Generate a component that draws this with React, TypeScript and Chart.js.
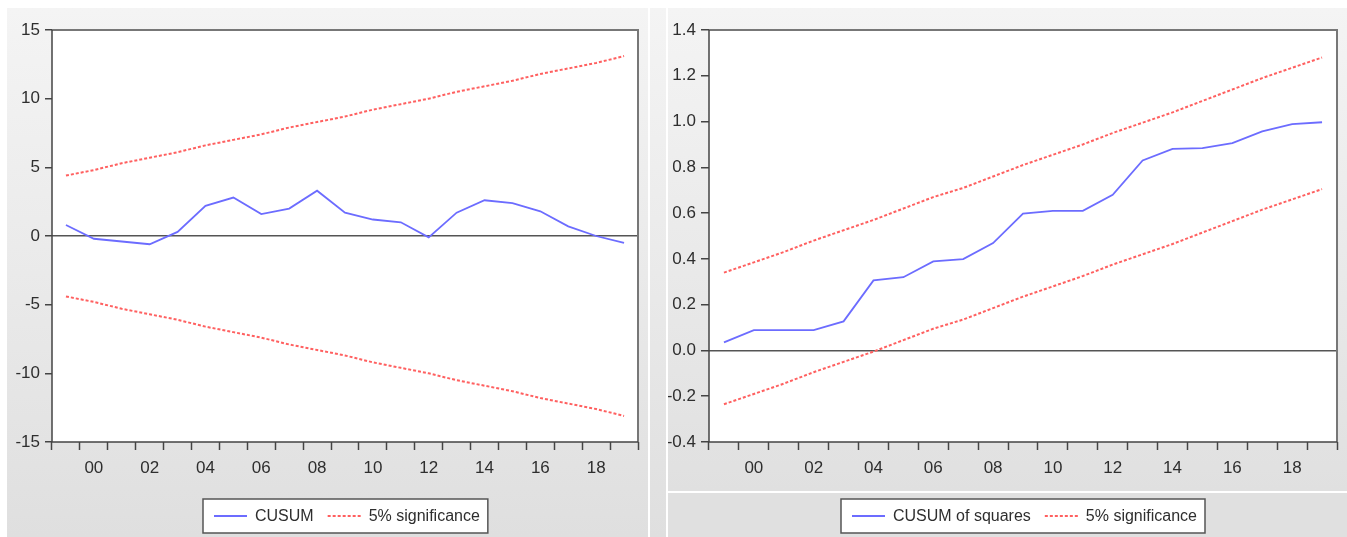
import React, { useEffect, useRef } from 'react';
import { Chart, registerables } from 'chart.js';

Chart.register(...registerables);

// ---------- data ----------
const years = [
  '1999', '2000', '2001', '2002', '2003', '2004', '2005', '2006', '2007', '2008', '2009',
  '2010', '2011', '2012', '2013', '2014', '2015', '2016', '2017', '2018', '2019',
];

const cusum = [0.8, -0.2, -0.4, -0.6, 0.3, 2.2, 2.8, 1.6, 2.0, 3.3, 1.7, 1.2, 1.0, -0.1, 1.7, 2.6, 2.4, 1.8, 0.7, 0.0, -0.5];
const cusumUpper = [4.4, 4.8, 5.3, 5.7, 6.1, 6.6, 7.0, 7.4, 7.9, 8.3, 8.7, 9.2, 9.6, 10.0, 10.5, 10.9, 11.3, 11.8, 12.2, 12.6, 13.1];
const cusumLower = [-4.4, -4.8, -5.3, -5.7, -6.1, -6.6, -7.0, -7.4, -7.9, -8.3, -8.7, -9.2, -9.6, -10.0, -10.5, -10.9, -11.3, -11.8, -12.2, -12.6, -13.1];

const cusumSq = [0.035, 0.089, 0.089, 0.089, 0.127, 0.306, 0.32, 0.389, 0.399, 0.469, 0.598, 0.61, 0.61, 0.68, 0.83, 0.881, 0.884, 0.906, 0.957, 0.989, 0.997];
const sqUpper = [0.34, 0.385, 0.43, 0.48, 0.525, 0.57, 0.62, 0.67, 0.71, 0.76, 0.81, 0.855, 0.9, 0.95, 0.995, 1.04, 1.09, 1.14, 1.19, 1.235, 1.28];
const sqLower = [-0.235, -0.19, -0.145, -0.095, -0.05, -0.005, 0.045, 0.095, 0.135, 0.185, 0.235, 0.28, 0.325, 0.375, 0.42, 0.465, 0.515, 0.565, 0.615, 0.66, 0.705];

const leftAxis = { min: -15, max: 15, step: 5, decimals: 0 };
const rightAxis = { min: -0.4, max: 1.4, step: 0.2, decimals: 1 };

const leftLegend = ['CUSUM', '5% significance'];
const rightLegend = ['CUSUM of squares', '5% significance'];

// ---------- styles ----------
const FONT = "'Liberation Sans', Arial, Helvetica, sans-serif";
const TEXT = '#2e2e2e';
const BLUE = '#6c6cff';
const RED = '#ff6060';
const DASH = [3, 2];
const AXIS = '#444444';

type PanelSpec = {
  values: number[];
  upper: number[];
  lower: number[];
  axis: { min: number; max: number; step: number; decimals: number };
  legend: string[];
  yWidth: number;
  yTick: number;
  yPad: number;
  width: number;
  height: number;
};

function makeConfig(p: PanelSpec): any {
  const framePlugin = {
    id: 'frame',
    beforeDraw(chart: any) {
      const { ctx, chartArea: a } = chart;
      ctx.save();
      ctx.fillStyle = '#ffffff';
      ctx.fillRect(a.left, a.top, a.right - a.left, a.bottom - a.top);
      ctx.restore();
    },
    afterDatasetsDraw(chart: any) {
      const { ctx, chartArea: a } = chart;
      ctx.save();
      ctx.lineCap = 'butt';
      ctx.strokeStyle = '#777777';
      ctx.lineWidth = 2;
      ctx.beginPath();
      ctx.moveTo(a.left, a.top);
      ctx.lineTo(a.right, a.top);
      ctx.lineTo(a.right, a.bottom);
      ctx.stroke();
      ctx.strokeStyle = AXIS;
      ctx.lineWidth = 1.5;
      ctx.beginPath();
      ctx.moveTo(a.left, a.top);
      ctx.lineTo(a.left, a.bottom);
      ctx.lineTo(a.right, a.bottom);
      ctx.stroke();
      ctx.restore();
    },
  };

  const legendPlugin = {
    id: 'boxLegend',
    afterDraw(chart: any) {
      const { ctx, chartArea: a } = chart;
      ctx.save();
      ctx.font = `16px ${FONT}`;
      const sample = 33;
      const gap = 8;
      const itemGap = 14;
      const padL = 11;
      const padR = 8;
      const w0 = ctx.measureText(p.legend[0]).width;
      const w1 = ctx.measureText(p.legend[1]).width;
      const total = padL + sample + gap + w0 + itemGap + sample + gap + w1 + padR;
      const cx = (a.left + a.right) / 2;
      const left = Math.round(cx - total / 2);
      const top = 491;
      const h = 34;
      ctx.fillStyle = '#ffffff';
      ctx.fillRect(left, top, total, h);
      ctx.strokeStyle = '#555555';
      ctx.lineWidth = 1.5;
      ctx.strokeRect(left, top, total, h);
      const my = top + h / 2;
      let x = left + padL;
      ctx.strokeStyle = BLUE;
      ctx.lineWidth = 2;
      ctx.setLineDash([]);
      ctx.beginPath();
      ctx.moveTo(x, my);
      ctx.lineTo(x + sample, my);
      ctx.stroke();
      x += sample + gap;
      ctx.fillStyle = TEXT;
      ctx.textBaseline = 'middle';
      ctx.textAlign = 'left';
      ctx.fillText(p.legend[0], x, my + 1);
      x += w0 + itemGap;
      ctx.strokeStyle = RED;
      ctx.setLineDash(DASH);
      ctx.beginPath();
      ctx.moveTo(x, my);
      ctx.lineTo(x + sample, my);
      ctx.stroke();
      ctx.setLineDash([]);
      x += sample + gap;
      ctx.fillText(p.legend[1], x, my + 1);
      ctx.restore();
    },
  };

  const dashed = (data: number[], label: string) => ({
    label,
    data,
    borderColor: RED,
    borderWidth: 2,
    borderDash: DASH,
    pointRadius: 0,
    tension: 0,
    fill: false,
  });

  return {
    type: 'line',
    data: {
      labels: years,
      datasets: [
        {
          label: p.legend[0],
          data: p.values,
          borderColor: BLUE,
          borderWidth: 1.8,
          pointRadius: 0,
          tension: 0,
          fill: false,
        },
        dashed(p.upper, p.legend[1]),
        dashed(p.lower, p.legend[1] + ' (lower)'),
      ],
    },
    options: {
      animation: false,
      responsive: false,
      maintainAspectRatio: false,
      events: [],
      layout: { padding: { left: 0, top: 22, right: 10, bottom: 50 } },
      plugins: { legend: { display: false }, tooltip: { enabled: false }, title: { display: false } },
      scales: {
        x: {
          type: 'category',
          offset: true,
          border: { display: false },
          grid: {
            offset: true,
            drawOnChartArea: false,
            drawTicks: true,
            tickLength: 8,
            tickColor: AXIS,
            tickWidth: 1.5,
          },
          ticks: {
            autoSkip: false,
            maxRotation: 0,
            minRotation: 0,
            padding: 8,
            color: TEXT,
            font: { family: FONT, size: 17 },
            callback: (_v: any, i: number) => (i % 2 === 1 ? years[i].slice(2) : ''),
          },
          afterFit: (s: any) => {
            s.height = 45;
          },
        },
        y: {
          min: p.axis.min,
          max: p.axis.max,
          border: { display: false },
          grid: {
            drawOnChartArea: true,
            color: (ctx: any) => (ctx.tick && Math.abs(ctx.tick.value) < 1e-9 ? '#555555' : 'rgba(0,0,0,0)'),
            lineWidth: 1.5,
            tickColor: AXIS,
            tickLength: p.yTick,
            tickWidth: 1.5,
          },
          ticks: {
            stepSize: p.axis.step,
            padding: p.yPad,
            color: TEXT,
            font: { family: FONT, size: 17 },
            callback: (v: any) => {
              const n = Math.abs(Number(v)) < 1e-9 ? 0 : Number(v);
              return n.toFixed(p.axis.decimals);
            },
          },
          afterFit: (s: any) => {
            s.width = p.yWidth;
          },
        },
      },
    },
    plugins: [framePlugin, legendPlugin],
  };
}

function ChartPanel({ spec, style }: { spec: PanelSpec; style: React.CSSProperties }) {
  const ref = useRef<HTMLCanvasElement | null>(null);
  useEffect(() => {
    if (!ref.current) return;
    const chart = new Chart(ref.current, makeConfig(spec));
    return () => chart.destroy();
  }, [spec]);
  return (
    <canvas
      ref={ref}
      width={spec.width}
      height={spec.height}
      style={{ position: 'absolute', width: spec.width, height: spec.height, ...style }}
    />
  );
}

const leftSpec: PanelSpec = {
  values: cusum,
  upper: cusumUpper,
  lower: cusumLower,
  axis: leftAxis,
  legend: leftLegend,
  yWidth: 45,
  yTick: 7,
  yPad: 5,
  width: 641,
  height: 529,
};

const rightSpec: PanelSpec = {
  values: cusumSq,
  upper: sqUpper,
  lower: sqLower,
  axis: rightAxis,
  legend: rightLegend,
  yWidth: 41,
  yTick: 8,
  yPad: 5,
  width: 679,
  height: 529,
};

const grad = 'linear-gradient(to bottom, #f4f4f4 0%, #e9e9e9 55%, #dfdfdf 100%)';

export default function App() {
  return (
    <div style={{ position: 'absolute', left: 0, top: 0, width: 1347, height: 537, background: '#ffffff', overflow: 'hidden' }}>
      <div style={{ position: 'absolute', left: 7, top: 8, width: 641, height: 529, background: grad }} />
      <div style={{ position: 'absolute', left: 650, top: 8, width: 16, height: 529, background: grad }} />
      <div style={{ position: 'absolute', left: 668, top: 8, width: 679, height: 483, background: 'linear-gradient(to bottom, #f4f4f4 0%, #e8e8e8 60%, #e0e0e0 100%)' }} />
      <div style={{ position: 'absolute', left: 668, top: 493, width: 679, height: 44, background: '#e0e0e0' }} />
      <ChartPanel spec={leftSpec} style={{ left: 7, top: 8 }} />
      <ChartPanel spec={rightSpec} style={{ left: 668, top: 8 }} />
    </div>
  );
}
